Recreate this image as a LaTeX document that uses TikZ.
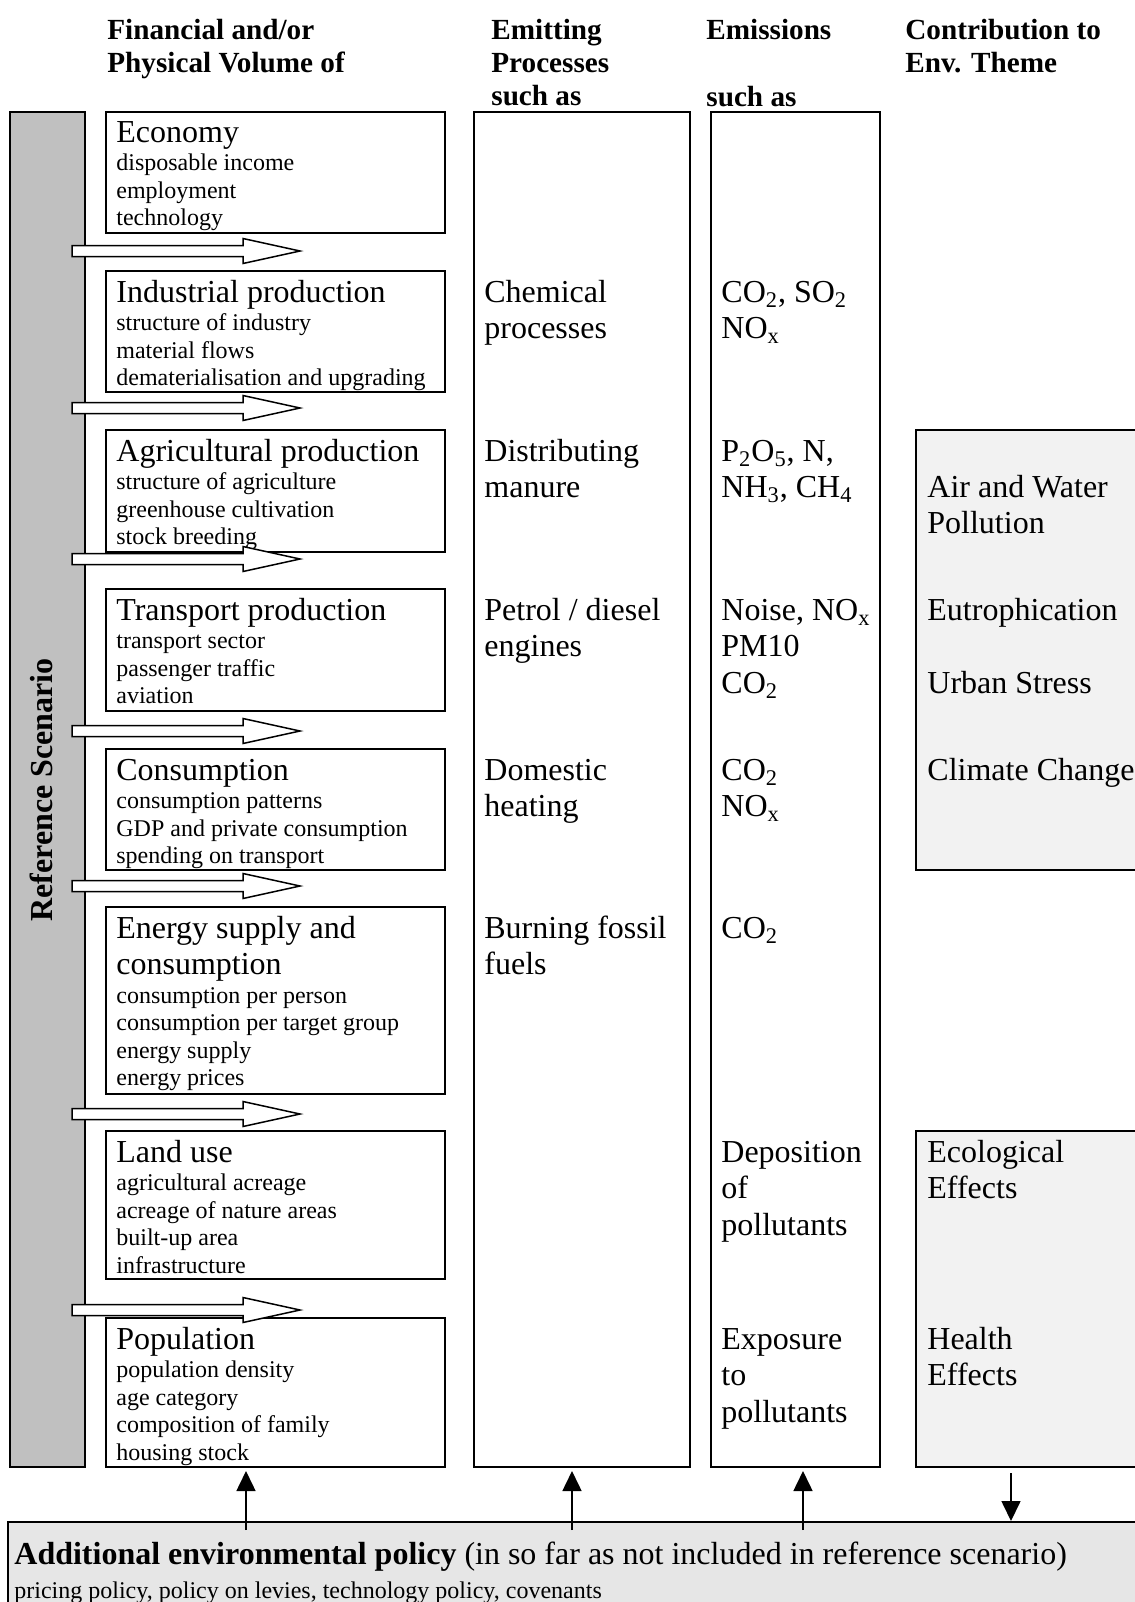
\documentclass[tikz,border=0pt]{standalone}
\usepackage{fontspec}
\setmainfont{Liberation Serif}
\usetikzlibrary{arrows.meta,fit}
\newcommand{\mlines}[1]{\begin{tabular}[t]{@{}l@{}}#1\end{tabular}}
\definecolor{barg}{HTML}{C0C0C0}
\definecolor{themeg}{HTML}{F2F2F2}
\definecolor{polg}{HTML}{E6E6E6}
\begin{document}
\begin{tikzpicture}[x=0.5pt,y=-0.5pt,
  boxst/.style={draw, line width=1pt, inner sep=0pt},
  barst/.style={boxst, fill=barg},
  themest/.style={boxst, fill=themeg},
  polst/.style={boxst, fill=polg},
  tbig/.style={font=\fontsize{16}{18.4}\selectfont, anchor=base west, inner sep=0pt},
  tsmall/.style={font=\fontsize{12}{13.8}\selectfont, anchor=base west, inner sep=0pt},
  thead/.style={font=\fontsize{14.6}{16.6}\selectfont\bfseries, anchor=base west, inner sep=0pt},
  connst/.style={line width=0.8pt, -{Triangle[length=10pt,width=9.5pt]}},
  blockst/.style={draw, fill=white, line width=0.75pt},
]
\useasboundingbox (0,0) rectangle (1135,1602);

% headers
\node[thead] (h1) at (107,39) {\mlines{Financial and/or\\Physical Volume of}};
\node[thead] (h2) at (491,39) {\mlines{Emitting\\Processes\\such as}};
\node[thead] (h3a) at (706,39) {Emissions};
\node[thead] (h3b) at (706,106) {such as};
\node[thead] (h4) at (905,39) {\mlines{Contribution to\\Env. Theme}};

% reference scenario bar
\node[barst, fit={(10,112) (85,1467)}] (bar) {};
\node[font=\fontsize{16}{18.4}\selectfont\bfseries, rotate=90, inner sep=0pt] (refsc) at (41,790) {Reference Scenario};

% column boxes
\node[boxst, fit={(474,112) (690,1467)}] (proc) {};
\node[boxst, fit={(711,112) (880,1467)}] (emis) {};
\node[themest, fit={(916,430) (1150,870)}] (theme1) {};
\node[themest, fit={(916,1131) (1150,1467)}] (theme2) {};

% left boxes
\node[boxst, fit={(106,112) (445,233)}] (econ) {};
\node[boxst, fit={(106,271) (445,392)}] (indu) {};
\node[boxst, fit={(106,430) (445,552)}] (agri) {};
\node[boxst, fit={(106,589) (445,711)}] (tran) {};
\node[boxst, fit={(106,749) (445,870)}] (cons) {};
\node[boxst, fit={(106,907) (445,1094)}] (ener) {};
\node[boxst, fit={(106,1131) (445,1279)}] (land) {};
\node[boxst, fit={(106,1318) (445,1467)}] (popu) {};

% left box texts
\node[tbig] (econt) at (116,142) {Economy};
\node[tsmall] (econi) at (116,170.5) {\mlines{disposable income\\employment\\technology}};
\node[tbig] (indut) at (116,302) {Industrial production};
\node[tsmall] (indui) at (116,330.5) {\mlines{structure of industry\\material flows\\dematerialisation and upgrading}};
\node[tbig] (agrit) at (116,461) {Agricultural production};
\node[tsmall] (agrii) at (116,489.5) {\mlines{structure of agriculture\\greenhouse cultivation\\stock breeding}};
\node[tbig] (trant) at (116,620) {Transport production};
\node[tsmall] (trani) at (116,648.5) {\mlines{transport sector\\passenger traffic\\aviation}};
\node[tbig] (const) at (116,780) {Consumption};
\node[tsmall] (consi) at (116,808.5) {\mlines{consumption patterns\\GDP and private consumption\\spending on transport}};
\node[tbig] (enert) at (116,938) {\mlines{Energy supply and\\consumption}};
\node[tsmall] (eneri) at (116,1003) {\mlines{consumption per person\\consumption per target group\\energy supply\\energy prices}};
\node[tbig] (landt) at (116,1162) {Land use};
\node[tsmall] (landi) at (116,1190.5) {\mlines{agricultural acreage\\acreage of nature areas\\built-up area\\infrastructure}};
\node[tbig] (poput) at (116,1349) {Population};
\node[tsmall] (popui) at (116,1377.5) {\mlines{population density\\age category\\composition of family\\housing stock}};

% process texts
\node[tbig] (p1) at (484,302) {\mlines{Chemical\\processes}};
\node[tbig] (p2) at (484,461) {\mlines{Distributing\\manure}};
\node[tbig] (p3) at (484,620) {\mlines{Petrol / diesel\\engines}};
\node[tbig] (p4) at (484,780) {\mlines{Domestic\\heating}};
\node[tbig] (p5) at (484,938) {\mlines{Burning fossil\\fuels}};

% emission texts
\node[tbig] (e1) at (721,302) {\mlines{CO\textsubscript{2}, SO\textsubscript{2}\\NO\textsubscript{x}}};
\node[tbig] (e2) at (721,461) {\mlines{P\textsubscript{2}O\textsubscript{5}, N,\\NH\textsubscript{3}, CH\textsubscript{4}}};
\node[tbig] (e3) at (721,620) {\mlines{Noise, NO\textsubscript{x}\\PM10\\CO\textsubscript{2}}};
\node[tbig] (e4) at (721,780) {\mlines{CO\textsubscript{2}\\NO\textsubscript{x}}};
\node[tbig] (e5) at (721,938) {CO\textsubscript{2}};
\node[tbig] (e6) at (721,1162) {\mlines{Deposition\\of\\pollutants}};
\node[tbig] (e7) at (721,1349) {\mlines{Exposure\\to\\pollutants}};

% theme texts
\node[tbig] (t1) at (927,497) {\mlines{Air and Water\\Pollution}};
\node[tbig] (t2) at (927,620) {Eutrophication};
\node[tbig] (t3) at (927,693) {Urban Stress};
\node[tbig] (t4) at (927,780) {Climate Change};
\node[tbig] (t5) at (927,1162) {\mlines{Ecological\\Effects}};
\node[tbig] (t6) at (927,1349) {\mlines{Health\\Effects}};

% block arrows
\foreach \yy in {251,408,559,731,886,1114,1310}{
  \draw[blockst] (72,\yy-5.5) -- (243,\yy-5.5) -- (243,\yy-12.5) -- (300,\yy)
     -- (243,\yy+12.5) -- (243,\yy+5.5) -- (72,\yy+5.5) -- cycle;
}

% policy box
\node[polst, fit={(8,1522) (1150,1660)}] (policy) {};
\node[tbig] (polt) at (14,1564) {\textbf{Additional environmental policy} (in so far as not included in reference scenario)};
\node[tsmall] (poli) at (14,1598) {pricing policy, policy on levies, technology policy, covenants};

% policy connectors
\coordinate (a1) at (246,1530);
\coordinate (a2) at (572,1530);
\coordinate (a3) at (803,1530);
\coordinate (a4) at (1011,1473);
\draw[connst, shorten >=1.5pt] (a1) -- (a1 |- popu.south);
\draw[connst, shorten >=1.5pt] (a2) -- (a2 |- proc.south);
\draw[connst, shorten >=1.5pt] (a3) -- (a3 |- emis.south);
\draw[connst] (a4) -- (a4 |- policy.north);
\end{tikzpicture}
\end{document}
